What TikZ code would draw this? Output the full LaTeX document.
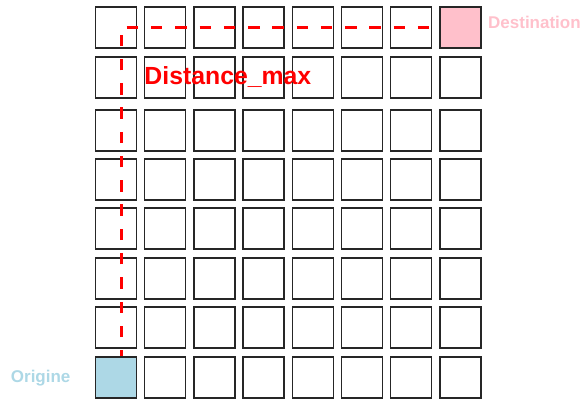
\documentclass[tikz,border=0pt]{standalone}
\usepackage{fontspec}
\setmainfont{Liberation Sans}
\usepackage{tikz}
\usetikzlibrary{positioning,calc}
\definecolor{CellBlue}{HTML}{ADD8E6}
\definecolor{CellPink}{HTML}{FFC0CB}
\definecolor{PathRed}{HTML}{FF0000}

\begin{document}
\begin{tikzpicture}[x=0.75pt,y=0.75pt,
    cell/.style={draw=black!85,line width=1.1pt,minimum size=30.75pt,inner sep=0pt,outer sep=0pt},
    tag/.style={font=\bfseries\fontsize{12.75}{15}\selectfont,inner sep=0pt}]
  \useasboundingbox (0,0) rectangle (581,400);
  \foreach \i in {1,...,8}
    \foreach \j/\y in {1/22.5,2/72.5,3/121.5,4/171.5,5/220.5,6/269.5,7/322.5,8/372.5}
      \node[cell] (c-\i-\j) at ({116+49.2*(\i-1)},\y) {};
  \draw[PathRed,line width=2.25pt,dash pattern=on 8.6pt off 9.6pt,dash phase=6.2pt]
      ($(c-1-1.center)+(5,0)$) |- (c-8-8.center);
  \foreach \c/\col in {c-1-1/CellBlue,c-8-8/CellPink}
    \filldraw[fill=\col,draw=black!85,line width=1.1pt] (\c.south west) rectangle (\c.north east);
  \node[tag,text=PathRed,font=\bfseries\fontsize{18.6}{22}\selectfont,anchor=base west]
      (dist) at ($(c-2-7.west)+(-0.5,-6.8)$) {Distance\_max};
  \node[tag,text=CellPink,anchor=base west] (dest) at ($(c-8-8.east)+(7,-0.8)$) {Destination};
  \node[tag,text=CellBlue,anchor=base east] (orig) at ($(c-1-1.west)+(-24.8,-4.8)$) {Origine};
\end{tikzpicture}
\end{document}
